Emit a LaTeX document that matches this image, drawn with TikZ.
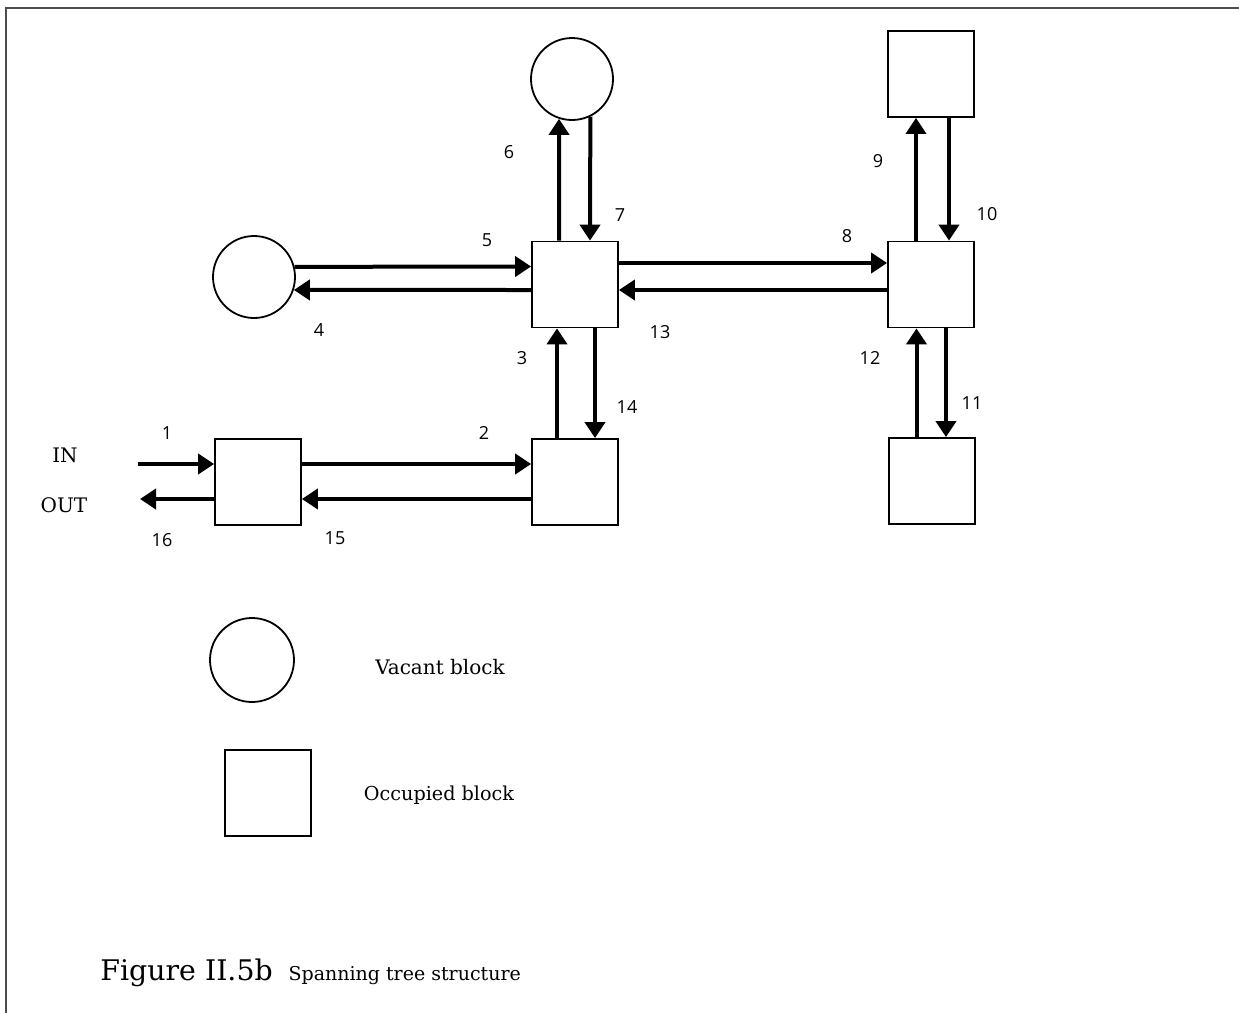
\documentclass[tikz,border=0pt]{standalone}
\usepackage{fontspec}
\setmainfont{DejaVu Serif}
\newfontfamily\numfont{Open Sans}
\usetikzlibrary{arrows.meta,calc,positioning}
\tikzset{
  blk/.style={draw,line width=0.9pt,minimum size=43pt,inner sep=0pt},
  vac/.style={draw,circle,line width=0.9pt,minimum size=41pt,inner sep=0pt},
  arr/.style={-{Triangle[length=8pt,width=10pt]},line width=2pt},
  num/.style={font=\numfont\fontsize{9}{10}\selectfont,inner sep=1pt},
  lbl/.style={font=\fontsize{10}{12}\selectfont,inner sep=1pt}
}
\begin{document}
\begin{tikzpicture}[x=0.5pt,y=-0.5pt]
\useasboundingbox (0,0) rectangle (1239,1013);
\draw[line width=1pt,black!70] (6,1013) -- (6,8) -- (1239,8);
% blocks of the tree
\node[blk] (l1) at (258,482) {};
\node[blk] (b1) at (575,482) {};
\node[blk] (c1) at (575,284.5) {};
\node[blk] (r1) at (931,284.5) {};
\node[blk] (tr) at (931,74) {};
\node[blk] (br) at (932,481) {};
\node[vac] (lc) at (254,277) {};
\node[vac] (tc) at (572,79) {};
\coordinate (in) at (138,464);
\coordinate (out) at (140,499);
\node[lbl] (tin) at (65,455) {IN};
\node[lbl] (tout) at (64,505) {OUT};
% moves
\draw[arr] (in) -- ($(l1.west)+(0,-18)$);
\draw[arr] ($(l1.east)+(0,-18)$) -- ($(b1.west)+(0,-18)$);
\draw[arr] ($(b1.north)+(-18,0)$) -- ($(c1.south)+(-18,0)$);
\draw[arr] ($(c1.west)+(0,5.5)$) -- (lc.-18.5);
\draw[arr] (lc.14) -- ($(c1.west)+(0,-18)$);
\draw[arr] ($(c1.north)+(-16,0)$) -- (tc.-108);
\draw[arr] (tc.-64) -- ($(c1.north)+(15,0)$);
\draw[arr] ($(c1.east)+(0,-21.5)$) -- ($(r1.west)+(0,-21.5)$);
\draw[arr] ($(r1.north)+(-15,0)$) -- ($(tr.south)+(-15,0)$);
\draw[arr] ($(tr.south)+(18,0)$) -- ($(r1.north)+(18,0)$);
\draw[arr] ($(r1.south)+(15,0)$) -- ($(br.north)+(14,0)$);
\draw[arr] ($(br.north)+(-15.5,0)$) -- ($(r1.south)+(-14.5,0)$);
\draw[arr] ($(r1.west)+(0,5.5)$) -- ($(c1.east)+(0,5.5)$);
\draw[arr] ($(c1.south)+(20,0)$) -- ($(b1.north)+(20,0)$);
\draw[arr] ($(b1.west)+(0,17)$) -- ($(l1.east)+(0,17)$);
\draw[arr] ($(l1.west)+(0,17)$) -- (out);
% numbers
\node[num] (n1) at (167,433) {1};
\node[num] (n2) at (484,433) {2};
\node[num] (n3) at (522,358) {3};
\node[num] (n4) at (319,330) {4};
\node[num] (n5) at (487,240) {5};
\node[num] (n6) at (509,152) {6};
\node[num] (n7) at (620,215) {7};
\node[num] (n8) at (847,236) {8};
\node[num] (n9) at (878,161) {9};
\node[num] (n10) at (987,214) {10};
\node[num] (n11) at (972,403) {11};
\node[num] (n12) at (870,358) {12};
\node[num] (n13) at (660,332) {13};
\node[num] (n14) at (627,407) {14};
\node[num] (n15) at (335,538) {15};
\node[num] (n16) at (162,540) {16};
% legend
\node[vac,minimum size=42pt] (lgv) at (252,660) {};
\node[blk] (lgo) at (268,793) {};
\node[lbl] (lgvt) at (440,667) {Vacant block};
\node[lbl,font=\fontsize{9.6}{12}\selectfont] (lgot) at (439,795) {Occupied block};
% caption
\node[anchor=base west,inner sep=0pt,font=\fontsize{14.2}{16}\selectfont] (cap) at (100,980) {Figure II.5b};
\node[anchor=base west,inner sep=0pt,font=\fontsize{9.5}{11}\selectfont] (capt) at ($(cap.base east)+(15,0)$) {Spanning tree structure};
\end{tikzpicture}
\end{document}
